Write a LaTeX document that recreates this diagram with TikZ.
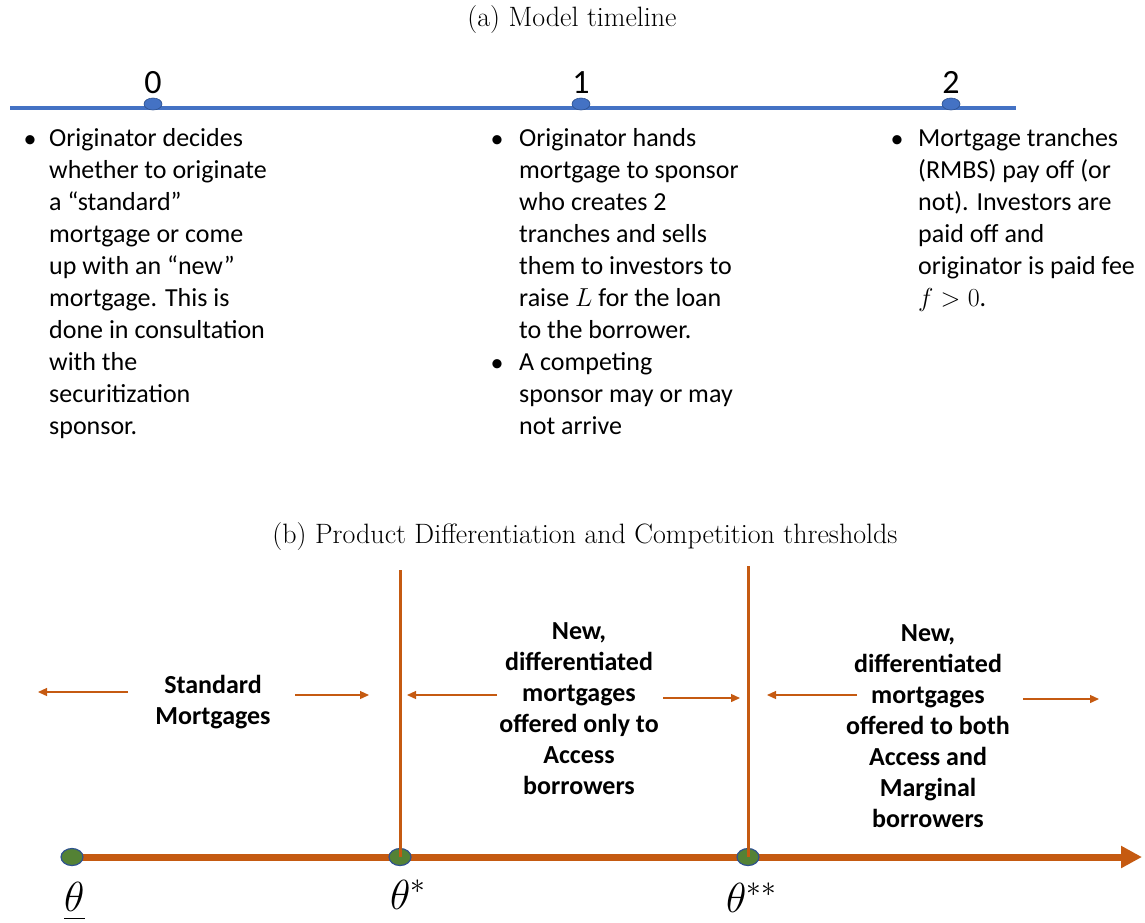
\RequirePackage{fix-cm}
\documentclass[tikz,border=0pt]{standalone}
\usepackage{fontspec}
\usetikzlibrary{arrows.meta,shapes.geometric}
\newfontfamily\carl{Carlito}
\definecolor{tlblue}{HTML}{4472C4}
\definecolor{dotedge}{HTML}{2F528F}
\definecolor{orng}{HTML}{C55A11}
\definecolor{grn}{HTML}{548235}
\tikzset{
  ttl/.style={font=\fontsize{28}{34}\selectfont, inner sep=0pt},
  digit/.style={font=\carl\fontsize{34}{40}\selectfont, inner sep=0pt},
  coltext/.style={font=\carl\fontsize{26}{32}\selectfont, align=left, inner sep=0pt, anchor=north west},
  bul/.style={font=\carl\fontsize{26}{32}\selectfont, inner sep=0pt, anchor=base},
  bluedot/.style={ellipse, fill=tlblue, draw=dotedge, line width=0.6pt, minimum width=18pt, minimum height=12pt, inner sep=0pt},
  tline/.style={draw=tlblue, line width=4pt},
  axisline/.style={draw=orng, line width=7pt, -{Triangle[length=21pt,width=21pt]}},
  vline/.style={draw=orng, line width=3pt},
  grndot/.style={ellipse, fill=grn, draw=dotedge, line width=1.2pt, minimum width=22pt, minimum height=17pt, inner sep=0pt},
  smallarrow/.style={draw=orng, line width=1.3pt, -{Triangle[length=9pt,width=8pt]}},
  boldtext/.style={font=\carl\bfseries\fontsize{26}{31}\selectfont, align=center, inner sep=0pt},
  thlabel/.style={font=\fontsize{42}{50}\selectfont, inner sep=0pt, anchor=base west}
}
\begin{document}
\begin{tikzpicture}[x=1pt,y=-1pt]
\useasboundingbox (0,0) rectangle (1145,922);
% ---------- (a) ----------
\node[ttl] (ta) at (572,20) {(a) Model timeline};
\coordinate (tlL) at (10,108);
\coordinate (tlR) at (1016,108);
\draw[tline] (tlL) -- (tlR);
\node[bluedot] (d0) at (153,104) {};
\node[bluedot] (d1) at (581,104) {};
\node[bluedot] (d2) at (951,104) {};
\node[digit, anchor=base] (n0) at (153,93) {0};
\node[digit, anchor=base] (n1) at (581,93) {1};
\node[digit, anchor=base] (n2) at (951,93) {2};

\node[bul] (b1) at (30,147) {•};
\node[coltext] (c1) at (49,128) {Originator decides\\whether to originate\\a “standard”\\mortgage or come\\up with an “new”\\mortgage. This is\\done in consultation\\with the\\securitization\\sponsor.};

\node[bul] (b2) at (497,147) {•};
\node[bul] (b3) at (497,371) {•};
\node[coltext] (c2) at (519,128) {Originator hands\\mortgage to sponsor\\who creates 2\\tranches and sells\\them to investors to\\raise $L$ for the loan\\to the borrower.\\A competing\\sponsor may or may\\not arrive};

\node[bul] (b4) at (897,147) {•};
\node[coltext] (c3) at (918,128) {Mortgage tranches\\(RMBS) pay off (or\\not). Investors are\\paid off and\\originator is paid fee\\$f>0$.};

% ---------- (b) ----------
\node[ttl] (tb) at (585,537) {(b) Product Differentiation and Competition thresholds};
\coordinate (axL) at (72,857);
\coordinate (axR) at (1142,857);
\draw[axisline] (axL) -- (axR);
\node[grndot] (g0) at (72,857) {};
\node[grndot] (g1) at (400,857) {};
\node[grndot] (g2) at (748,857) {};
\coordinate (v1top) at (400,570);
\coordinate (v2top) at (748,566);
\draw[vline] (v1top) -- (g1.center);
\draw[vline] (v2top) -- (g2.center);

\node[boldtext] (s1) at (213,702) {Standard\\Mortgages};
\node[boldtext] (s2) at (579,709) {New,\\differentiated\\mortgages\\offered only to\\Access\\borrowers};
\node[boldtext] (s3) at (928,726) {New,\\differentiated\\mortgages\\offered to both\\Access and\\Marginal\\borrowers};

\coordinate (a1s) at (128,692); \coordinate (a1e) at (38,692);
\coordinate (a2s) at (295,695); \coordinate (a2e) at (369,695);
\coordinate (a3s) at (497,695); \coordinate (a3e) at (407,695);
\coordinate (a4s) at (663,698); \coordinate (a4e) at (740,698);
\coordinate (a5s) at (857,695); \coordinate (a5e) at (767,695);
\coordinate (a6s) at (1023,699); \coordinate (a6e) at (1099,699);
\draw[smallarrow] (a1s) -- (a1e);
\draw[smallarrow] (a2s) -- (a2e);
\draw[smallarrow] (a3s) -- (a3e);
\draw[smallarrow] (a4s) -- (a4e);
\draw[smallarrow] (a5s) -- (a5e);
\draw[smallarrow] (a6s) -- (a6e);

\node[thlabel] (l0) at (64,911) {$\underline{\theta\vphantom{\scriptstyle y}}$};
\node[thlabel] (l1) at (390,909) {$\theta^{*}$};
\node[thlabel] (l2) at (726,912) {$\theta^{**}$};
\end{tikzpicture}
\end{document}
